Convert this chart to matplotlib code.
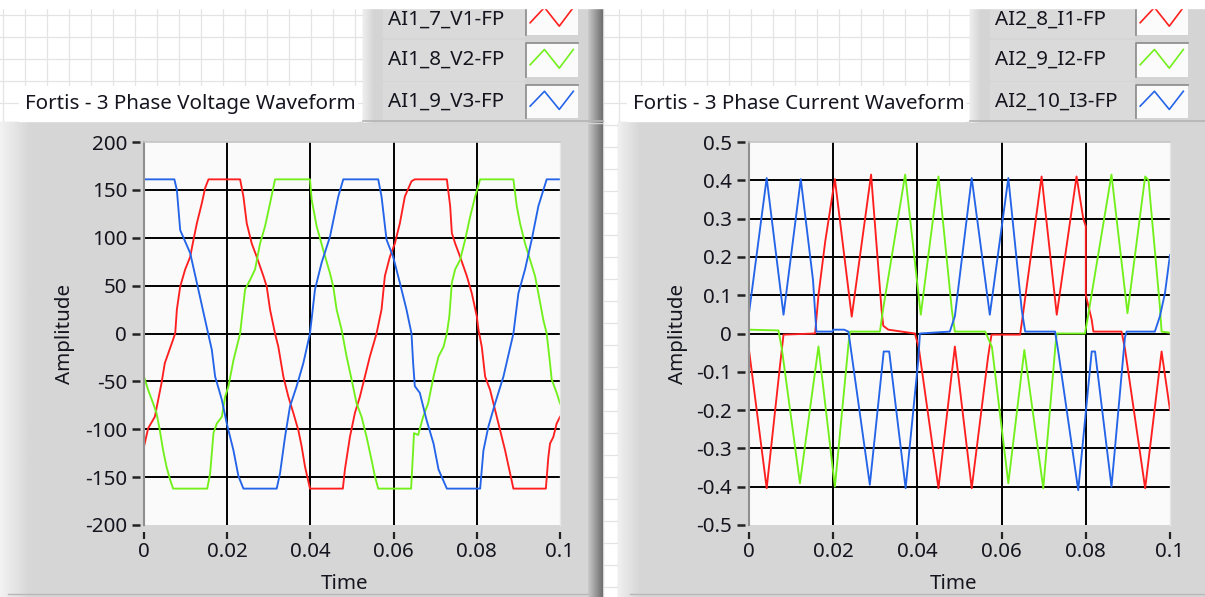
#!/usr/bin/env python3
"""Recreate the Fortis 3-phase voltage / current waveform front panel."""

import matplotlib

matplotlib.use("Agg")
import matplotlib.pyplot as plt
import numpy as np
from matplotlib.patches import Rectangle
from matplotlib.transforms import blended_transform_factory

W, H = 1205, 597
FONT = ["Noto Sans", "DejaVu Sans"]
FS = 14.8
TEXT = "#15151f"
RED, GREEN, BLUE = "#ff1f1f", "#72f01c", "#2364e8"

# ---- shared x axis ----
X_TICKS = [0, 0.02, 0.04, 0.06, 0.08, 0.1]
X_LABELS = ["0", "0.02", "0.04", "0.06", "0.08", "0.1"]

# ---- voltage chart ----
V_TITLE = "Fortis - 3 Phase Voltage Waveform"
V_NAMES = ["AI1_7_V1-FP", "AI1_8_V2-FP", "AI1_9_V3-FP"]
V_YTICKS = [200, 150, 100, 50, 0, -50, -100, -150, -200]
V_YLABELS = ["200", "150", "100", "50", "0", "-50", "-100", "-150", "-200"]

V1_T = [0, 0.001, 0.0026, 0.0042, 0.005, 0.0067, 0.0075, 0.0079, 0.0087, 0.0099,
        0.0111, 0.0119, 0.0127, 0.0139, 0.0147, 0.0155, 0.0231, 0.0239, 0.0247,
        0.0259, 0.0271, 0.0287, 0.0295, 0.0303, 0.0315, 0.0323, 0.0335, 0.0347,
        0.0359, 0.0371, 0.0379, 0.0387, 0.0399, 0.0478, 0.0483, 0.0495, 0.0507,
        0.0519, 0.0531, 0.0543, 0.0559, 0.0571, 0.0579, 0.0591, 0.0603, 0.0615,
        0.0627, 0.0643, 0.0651, 0.0728, 0.0736, 0.074, 0.0748, 0.076, 0.0776,
        0.0788, 0.08, 0.0804, 0.0812, 0.082, 0.0832, 0.0844, 0.0856, 0.0868,
        0.088, 0.0888, 0.0966, 0.0972, 0.0976, 0.0984, 0.0992, 0.1]
V1_A = [-118, -99, -87, -52, -31, -10, 0, 25, 49, 67,
        80, 98, 115, 136, 152, 161, 161, 143, 115,
        94, 80, 60, 49, 25, 0, -14, -45, -66,
        -83, -101, -118, -139, -162, -162, -142, -108, -83,
        -66, -45, -24, 0, 25, 60, 80, 94, 115,
        143, 159, 161, 161, 133, 105, 94, 80, 60,
        42, 18, 4, -14, -45, -59, -80, -101, -122,
        -146, -162, -162, -129, -115, -108, -94, -87]

V2_T = [0, 0.001, 0.0022, 0.003, 0.0038, 0.0046, 0.0054, 0.0063, 0.007, 0.0152,
        0.0159, 0.0167, 0.0175, 0.0187, 0.0195, 0.0203, 0.0215, 0.0231, 0.0243,
        0.0255, 0.0267, 0.0279, 0.0291, 0.0303, 0.0315, 0.0399, 0.0403, 0.0415,
        0.0431, 0.0447, 0.0455, 0.0463, 0.0475, 0.0487, 0.0499, 0.0511, 0.0523,
        0.0535, 0.0547, 0.0555, 0.0563, 0.0642, 0.0647, 0.0649, 0.0659, 0.0671,
        0.0683, 0.0696, 0.0708, 0.072, 0.0728, 0.0734, 0.074, 0.0748, 0.076,
        0.0772, 0.0784, 0.0796, 0.0808, 0.0888, 0.0896, 0.0904, 0.0916, 0.0928,
        0.094, 0.0948, 0.096, 0.0968, 0.0976, 0.098, 0.0992, 0.1]
V2_A = [-45, -59, -73, -83, -101, -122, -139, -153, -162, -162,
        -146, -104, -94, -87, -66, -55, -28, 0, 46,
        56, 67, 94, 112, 136, 161, 161, 140, 112,
        87, 63, 49, 25, 4, -24, -48, -73, -87,
        -108, -132, -149, -162, -162, -122, -104, -106, -87,
        -73, -45, -24, -14, 0, 18, 53, 67, 77,
        98, 122, 143, 161, 161, 133, 115, 94, 77,
        60, 42, 14, 0, -31, -48, -62, -73]

V3_T = [0, 0.0073, 0.0079, 0.0087, 0.0111, 0.0127, 0.0147, 0.0163, 0.0171, 0.0187,
        0.0199, 0.0215, 0.0227, 0.0239, 0.0319, 0.0327, 0.0339, 0.0351, 0.0367,
        0.0383, 0.0399, 0.0411, 0.0427, 0.0447, 0.0467, 0.0479, 0.0563, 0.0571,
        0.0583, 0.0599, 0.0615, 0.0631, 0.0643, 0.0647, 0.0651, 0.0663, 0.0679,
        0.0696, 0.0708, 0.0728, 0.0808, 0.0816, 0.0828, 0.0844, 0.0864, 0.0888,
        0.09, 0.0916, 0.0932, 0.0948, 0.0968, 0.1]
V3_A = [161, 161, 150, 108, 84, 53, 14, -17, -45, -69,
        -94, -122, -149, -162, -162, -146, -108, -76, -55,
        -31, 0, 46, 74, 101, 143, 161, 161, 143,
        98, 80, 53, 25, 0, -31, -55, -62, -90,
        -115, -142, -162, -162, -122, -97, -73, -45, 0,
        42, 67, 98, 133, 161, 161]

# ---- current chart ----
I_TITLE = "Fortis - 3 Phase Current Waveform"
I_NAMES = ["AI2_8_I1-FP", "AI2_9_I2-FP", "AI2_10_I3-FP"]
I_YTICKS = [0.5, 0.4, 0.3, 0.2, 0.1, 0, -0.1, -0.2, -0.3, -0.4, -0.5]
I_YLABELS = ["0.5", "0.4", "0.3", "0.2", "0.1", "0", "-0.1", "-0.2", "-0.3", "-0.4", "-0.5"]

I1_T = [0, 0.0042, 0.0074, 0.0082, 0.0157, 0.0165, 0.0181, 0.0204, 0.0244, 0.029,
        0.0315, 0.0319, 0.0331, 0.0394, 0.0403, 0.045, 0.0489, 0.0529, 0.0568,
        0.0576, 0.0644, 0.0652, 0.0695, 0.0731, 0.0778, 0.0794, 0.08, 0.08,
        0.0814, 0.0818, 0.0885, 0.0893, 0.0941, 0.098, 0.1]
I1_A = [-0.043, -0.404, -0.08, -0.003, 0.0, 0.1, 0.24, 0.403, 0.044, 0.415,
        0.06, 0.02, 0.01, 0.0, -0.035, -0.404, -0.034, -0.404, -0.06,
        -0.003, -0.003, 0.06, 0.41, 0.049, 0.41, 0.30, 0.28, 0.10,
        0.036, 0.005, 0.005, -0.04, -0.404, -0.047, -0.2]

I2_T = [0, 0.007, 0.0078, 0.0121, 0.0165, 0.0204, 0.0237, 0.024, 0.0311, 0.0318,
        0.0371, 0.0408, 0.045, 0.0482, 0.0489, 0.0561, 0.0577, 0.0616, 0.0654,
        0.0699, 0.0728, 0.0731, 0.0798, 0.0806, 0.0861, 0.0899, 0.0941, 0.0949,
        0.0976, 0.098, 0.1]
I2_A = [0.01, 0.008, -0.04, -0.391, -0.034, -0.40, -0.02, 0.005, 0.005, 0.06,
        0.415, 0.049, 0.41, 0.06, 0.005, 0.005, -0.035, -0.391, -0.043,
        -0.404, -0.03, 0.0, 0.0, 0.05, 0.415, 0.053, 0.41, 0.40,
        0.07, 0.005, 0.002]

I3_T = [0, 0.0042, 0.0082, 0.0123, 0.0152, 0.016, 0.0198, 0.02, 0.0226, 0.0236,
        0.024, 0.0287, 0.032, 0.0333, 0.0372, 0.0402, 0.0406, 0.0477, 0.0489,
        0.0529, 0.0572, 0.0616, 0.0648, 0.0656, 0.0727, 0.0735, 0.0782, 0.0814,
        0.0822, 0.0861, 0.0893, 0.0897, 0.0964, 0.0976, 0.0988, 0.1]
I3_A = [0.053, 0.406, 0.049, 0.403, 0.14, 0.005, 0.005, 0.01, 0.01, 0.005,
        -0.025, -0.395, -0.047, -0.047, -0.404, -0.07, 0.0, 0.005, 0.045,
        0.406, 0.049, 0.406, 0.06, 0.005, 0.005, -0.05, -0.409, -0.047,
        -0.047, -0.40, -0.01, 0.005, 0.005, 0.045, 0.105, 0.205]


def px_rect(x0, y0, x1, y1):
    return [x0 / W, 1 - y1 / H, (x1 - x0) / W, (y1 - y0) / H]


def hgrad(bg, x0, x1, y0, y1, c0, c1, z=2):
    ramp = np.linspace(c0, c1, 64)[None, :]
    bg.imshow(ramp, extent=(x0, x1, y1, y0), cmap="gray", vmin=0, vmax=1,
              aspect="auto", interpolation="bilinear", zorder=z)


def draw_legend(bg, x0, x1, text_x, sw0, sw1, names, colors, shadow):
    bg.add_patch(Rectangle((x0, 8), x1 - x0, 115, color="#d4d4d4", zorder=2))
    hgrad(bg, x0, x0 + 10, 8, 123, 0.93, 0.84)
    if shadow:
        hgrad(bg, x1 - 15, x1, 8, 123, 0.79, 0.43)
    bg.plot([x0, x1], [121, 121], color="#b4b4b4", lw=1.2, zorder=3)
    rows = [(1, 35), (43, 77), (85, 118)]
    bands = [(8, 37), (40, 80), (82, 119)]
    for (r0, r1), (b0, b1), name, col in zip(rows, bands, names, colors):
        bg.add_patch(Rectangle((x0 + 20, b0), sw0 - x0 - 22, b1 - b0, color="#dadada", zorder=2.5))
        bg.add_patch(Rectangle((sw0, r0), sw1 - sw0, r1 - r0, facecolor="#fbfbfb",
                               edgecolor="none", zorder=3))
        bg.plot([sw0, sw0, sw1], [r1, r0, r0], color="#8a8a8a", lw=1.2, zorder=3.2)
        zx = [0.08, 0.355, 0.64, 0.91]
        zy = [0.64, 0.19, 0.74, 0.19]
        bg.plot([sw0 + f * (sw1 - sw0) for f in zx], [r0 + f * (r1 - r0) for f in zy],
                color=col, lw=1.2, zorder=3.5)
        yc = max((r0 + r1) / 2, 20)
        bg.text(text_x, yc, name, ha="left", va="center", fontsize=FS, family=FONT,
                color=TEXT, zorder=4)


def draw_chart(fig, box, series, yticks, ylabels, ylim, ylab_x, xlab):
    x0, y0, x1, y1 = box
    ax = fig.add_axes(px_rect(x0, y0, x1, y1))
    ax.set_facecolor("#fafafa")
    ax.set_xlim(0, 0.1)
    ax.set_ylim(*ylim)
    for v in yticks[1:-1]:
        ax.axhline(v, color="black", lw=1.4, zorder=1)
    for t in X_TICKS[1:-1]:
        ax.axvline(t, color="black", lw=1.4, zorder=1)
    for (ts, vs), col in zip(series, [RED, GREEN, BLUE]):
        ax.plot(ts, vs, color=col, lw=1.35, zorder=2)
    ax.set_xticks(X_TICKS)
    ax.set_xticklabels(X_LABELS)
    ax.set_yticks(yticks)
    ax.set_yticklabels(ylabels)
    ax.tick_params(length=0, labelsize=FS, labelcolor=TEXT)
    ax.tick_params(axis="y", pad=12.2)
    ax.tick_params(axis="x", pad=12.5)
    for lab in ax.get_xticklabels() + ax.get_yticklabels():
        lab.set_family(FONT)
    for side, col, lw in [("left", "#8f8f8f", 1.5), ("top", "#c4c4c4", 1.2),
                          ("right", "#e6e6e6", 1.0)]:
        ax.spines[side].set_color(col)
        ax.spines[side].set_linewidth(lw)
    ax.spines["bottom"].set_visible(False)
    wpx, hpx = x1 - x0, y1 - y0
    ytr = blended_transform_factory(ax.transAxes, ax.transData)
    for v in yticks:
        ax.plot([-12.5 / wpx, -4 / wpx], [v, v], transform=ytr, color="#222222",
                lw=1.8, clip_on=False, solid_capstyle="butt")
    xtr = blended_transform_factory(ax.transData, ax.transAxes)
    for t in X_TICKS:
        ax.plot([t, t], [-6.5 / hpx, -13.5 / hpx], transform=xtr, color="#222222",
                lw=1.6, clip_on=False, solid_capstyle="butt")
    ax.set_xlabel("Time", fontsize=FS, family=FONT, color=TEXT)
    ax.xaxis.set_label_coords(xlab, (y1 - 584) / hpx)
    ax.xaxis.label.set_va("center")
    ax.set_ylabel("Amplitude", fontsize=FS, family=FONT, color=TEXT)
    ax.yaxis.set_label_coords((ylab_x - x0) / wpx, 0.5)
    ax.yaxis.label.set_va("center")
    return ax


fig = plt.figure(figsize=(W / 100, H / 100), dpi=100)
bg = fig.add_axes([0, 0, 1, 1])
bg.set_xlim(0, W)
bg.set_ylim(H, 0)
bg.axis("off")

# front panel grid
for gx in np.arange(3.3, W, 22):
    bg.plot([gx, gx], [8, H], color="#e4e4e4", lw=0.9, zorder=1)
for gy in np.arange(15, H, 22):
    bg.plot([0, W], [gy, gy], color="#e4e4e4", lw=0.9, zorder=1)

# chart frames
bg.add_patch(Rectangle((0, 122), 603, H - 122, color="#d6d6d6", zorder=2))
hgrad(bg, 0, 30, 122, H, 0.95, 0.84)
hgrad(bg, 588, 603, 122, H, 0.79, 0.43)
bg.add_patch(Rectangle((618, 122), W - 618, H - 122, color="#d6d6d6", zorder=2))
hgrad(bg, 618, 640, 122, H, 0.94, 0.84)
bg.plot([8, 588], [594, 594], color="#b8b8b8", lw=1.0, zorder=3)
bg.plot([630, W], [594, 594], color="#b8b8b8", lw=1.0, zorder=3)

draw_legend(bg, 363, 603, 388, 526, 578, V_NAMES, [RED, GREEN, BLUE], True)
draw_legend(bg, 970, W, 995, 1136, 1188, I_NAMES, [RED, GREEN, BLUE], False)

# titles
for tx, title in [(25, V_TITLE), (633, I_TITLE)]:
    bg.add_patch(Rectangle((tx - 6, 86), 338, 35, color="white", zorder=3))
    bg.text(tx, 104, title, ha="left", va="center", fontsize=FS, family=FONT,
            color=TEXT, zorder=4)

bg.add_patch(Rectangle((0, 0), W, 8, color="white", zorder=6))

draw_chart(fig, (144, 142, 560, 525), [(V1_T, V1_A), (V2_T, V2_A), (V3_T, V3_A)],
           V_YTICKS, V_YLABELS, (-200, 200), 65, 0.483)
draw_chart(fig, (749, 142, 1170, 525), [(I1_T, I1_A), (I2_T, I2_A), (I3_T, I3_A)],
           I_YTICKS, I_YLABELS, (-0.5, 0.5), 678, 0.485)

fig.savefig("out.png", dpi=100)
